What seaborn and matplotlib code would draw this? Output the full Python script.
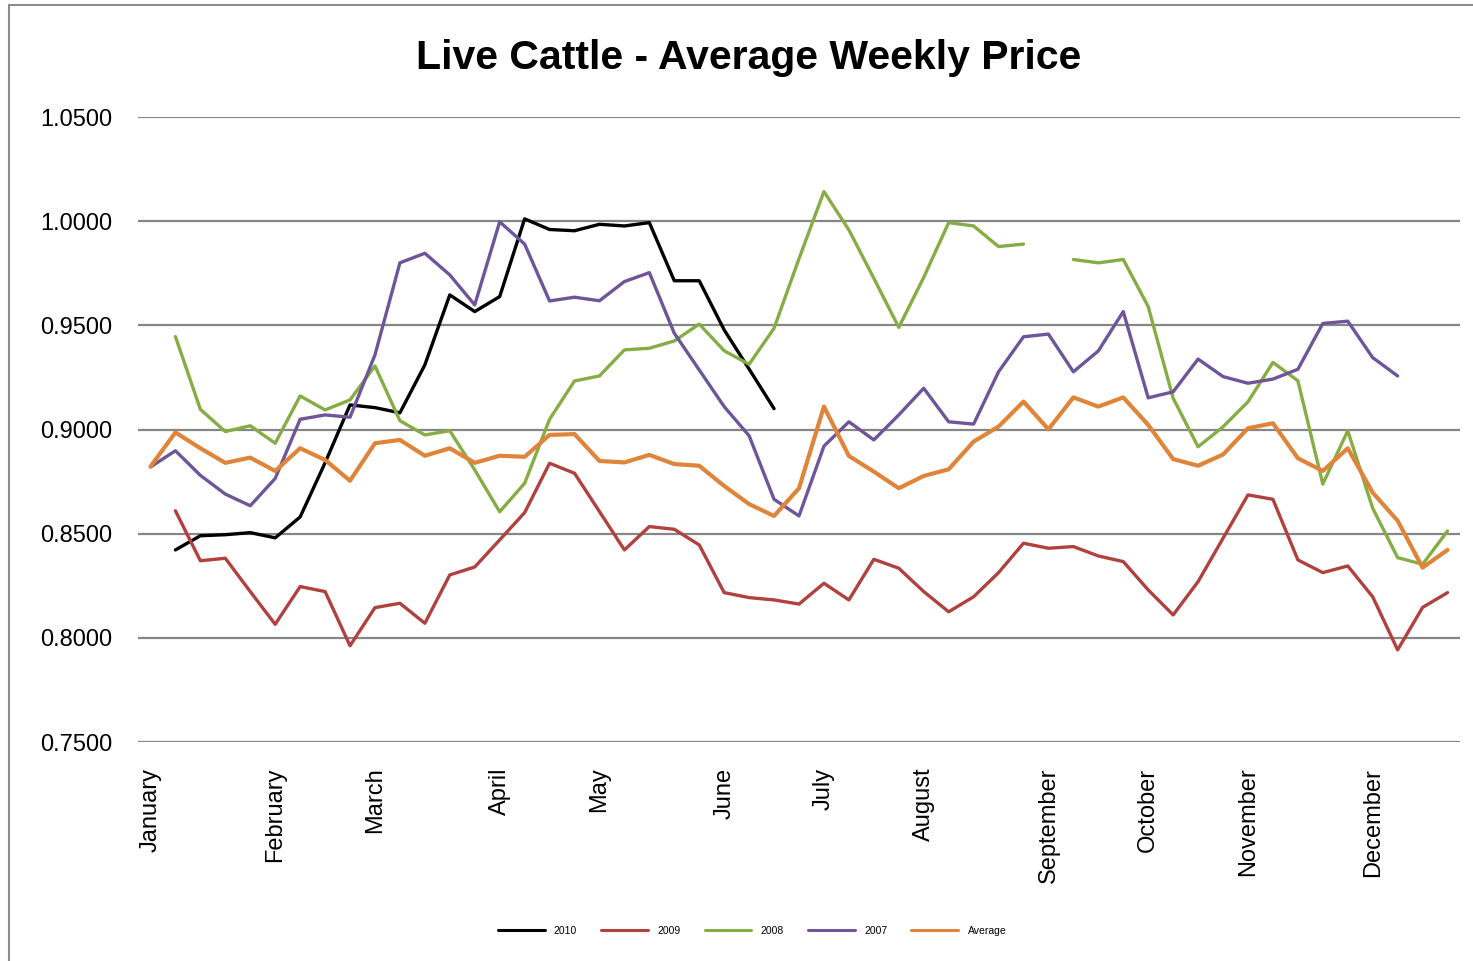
import numpy as np
import pandas as pd
import matplotlib
matplotlib.use("Agg")
import matplotlib.pyplot as plt
from matplotlib.lines import Line2D
import seaborn as sns

weeks = list(range(53))
month_labels = ["January", "February", "March", "April", "May", "June", "July",
                "August", "September", "October", "November", "December"]
month_weeks = [0, 5, 9, 14, 18, 23, 27, 31, 36, 40, 44, 49]

nan = np.nan
s2010 = [nan, 0.8422, 0.8490, 0.8495, 0.8505, 0.8480, 0.8580, 0.8840, 0.9118, 0.9105,
         0.9080, 0.9310, 0.9646, 0.9566, 0.9638, 1.0011, 0.9960, 0.9954, 0.9985, 0.9977,
         0.9993, 0.9714, 0.9714, 0.9478, 0.9290, 0.9100] + [nan] * 27
s2009 = [nan, 0.8610, 0.8370, 0.8382, 0.8222, 0.8065, 0.8246, 0.8222, 0.7962, 0.8145,
         0.8166, 0.8070, 0.8302, 0.8340, 0.8470, 0.8601, 0.8838, 0.8790, 0.8606, 0.8422,
         0.8534, 0.8521, 0.8446, 0.8217, 0.8193, 0.8182, 0.8162, 0.8262, 0.8182, 0.8377,
         0.8334, 0.8222, 0.8125, 0.8197, 0.8313, 0.8454, 0.8430, 0.8438, 0.8393, 0.8366,
         0.8230, 0.8110, 0.8270, 0.8478, 0.8686, 0.8665, 0.8374, 0.8313, 0.8345, 0.8197,
         0.7942, 0.8146, 0.8217]
s2008 = [nan, 0.9446, 0.9097, 0.8990, 0.9018, 0.8934, 0.9161, 0.9094, 0.9142, 0.9305,
         0.9042, 0.8974, 0.8994, 0.8806, 0.8605, 0.8742, 0.9049, 0.9233, 0.9257, 0.9382,
         0.9390, 0.9425, 0.9506, 0.9378, 0.9313, 0.9486, 0.9820, 1.0142, 0.9958, 0.9726,
         0.9490, 0.9730, 0.9993, 0.9977, 0.9878, 0.9890, nan, 0.9816, 0.9800, 0.9816,
         0.9590, 0.9150, 0.8917, 0.9013, 0.9133, 0.9322, 0.9234, 0.8738, 0.8994, 0.8622,
         0.8385, 0.8353, 0.8513]
s2007 = [0.8820, 0.8898, 0.8780, 0.8690, 0.8634, 0.8765, 0.9049, 0.9070, 0.9059, 0.9358,
         0.9800, 0.9846, 0.9742, 0.9598, 0.9997, 0.9890, 0.9617, 0.9635, 0.9618, 0.9710,
         0.9753, 0.9462, 0.9286, 0.9110, 0.8970, 0.8665, 0.8585, 0.8920, 0.9037, 0.8950,
         0.9070, 0.9198, 0.9037, 0.9026, 0.9277, 0.9445, 0.9458, 0.9277, 0.9377, 0.9566,
         0.9152, 0.9181, 0.9338, 0.9254, 0.9222, 0.9242, 0.9289, 0.9509, 0.9520, 0.9345,
         0.9257, nan, nan]
s_avg = [0.8822, 0.8986, 0.8910, 0.8840, 0.8865, 0.8801, 0.8910, 0.8854, 0.8754, 0.8934,
         0.8950, 0.8874, 0.8910, 0.8840, 0.8874, 0.8869, 0.8974, 0.8978, 0.8849, 0.8842,
         0.8878, 0.8834, 0.8826, 0.8729, 0.8642, 0.8585, 0.8718, 0.9110, 0.8873, 0.8798,
         0.8718, 0.8777, 0.8809, 0.8942, 0.9014, 0.9134, 0.9001, 0.9154, 0.9110, 0.9154,
         0.9022, 0.8858, 0.8826, 0.8880, 0.9006, 0.9030, 0.8862, 0.8801, 0.8910, 0.8697,
         0.8562, 0.8337, 0.8422]

series_names = ["2010", "2009", "2008", "2007", "Average"]
series_vals = [s2010, s2009, s2008, s2007, s_avg]
colors = ["#000000", "#B0413E", "#86AD44", "#6E559A", "#E0843A"]
widths = [2.4, 2.4, 2.4, 2.4, 3.0]

sns.set_theme(style="white")
plt.rcParams["font.family"] = ["Liberation Sans", "DejaVu Sans"]
plt.rcParams["text.color"] = "black"
plt.rcParams["xtick.color"] = "black"
plt.rcParams["ytick.color"] = "black"

fig = plt.figure(figsize=(14.73, 9.61), dpi=100)
ax = fig.add_axes([138 / 1473, 1 - 742 / 961, (1460 - 138) / 1473, (742 - 117) / 961])

# chart border
fig.add_artist(Line2D([9 / 1473, 9 / 1473], [0, 1 - 5 / 961], color="#8C8C8C", lw=1.5))
fig.add_artist(Line2D([9 / 1473, 1], [1 - 5 / 961, 1 - 5 / 961], color="#8C8C8C", lw=1.5))

for name, vals, c, w in zip(series_names, series_vals, colors, widths):
    df = pd.DataFrame({"week": weeks, "value": vals})
    valid = df["value"].notna()
    seg_id = (~valid).cumsum()
    for _, seg in df[valid].groupby(seg_id[valid]):
        sns.lineplot(data=seg, x="week", y="value", ax=ax, color=c, linewidth=w,
                     legend=False, sort=False)

ax.set_xlim(-0.5, 52.5)
ax.set_ylim(0.75, 1.05)
yt = [0.75, 0.80, 0.85, 0.90, 0.95, 1.00, 1.05]
ax.set_yticks(yt)
ax.set_yticklabels([f"{v:.4f}" for v in yt], fontsize=17)
ax.set_xticks(month_weeks)
ax.set_xticklabels(month_labels, rotation=90, fontsize=17, va="top", ha="center")
ax.tick_params(axis="y", length=0, pad=18.5)
ax.tick_params(axis="x", length=0, pad=18.5)
ax.set_xlabel("")
ax.set_ylabel("")
ax.yaxis.grid(True, color="#868686", linewidth=1.6)
ax.xaxis.grid(False)
ax.set_axisbelow(True)
for sp in ax.spines.values():
    sp.set_visible(False)

fig.text(749 / 1473, 1 - 58 / 961, "Live Cattle - Average Weekly Price", ha="center",
         va="center", fontsize=29.5, fontweight="bold", color="black")

handles = [Line2D([0], [0], color=c, lw=2.2) for c in colors]
fig.legend(handles, series_names, loc="center", bbox_to_anchor=(752 / 1473, 1 - 931 / 961),
           ncol=5, frameon=False, fontsize=7.5, handlelength=4.5, handletextpad=0.9,
           columnspacing=2.3)

fig.savefig("out.png", dpi=100, facecolor="white")
